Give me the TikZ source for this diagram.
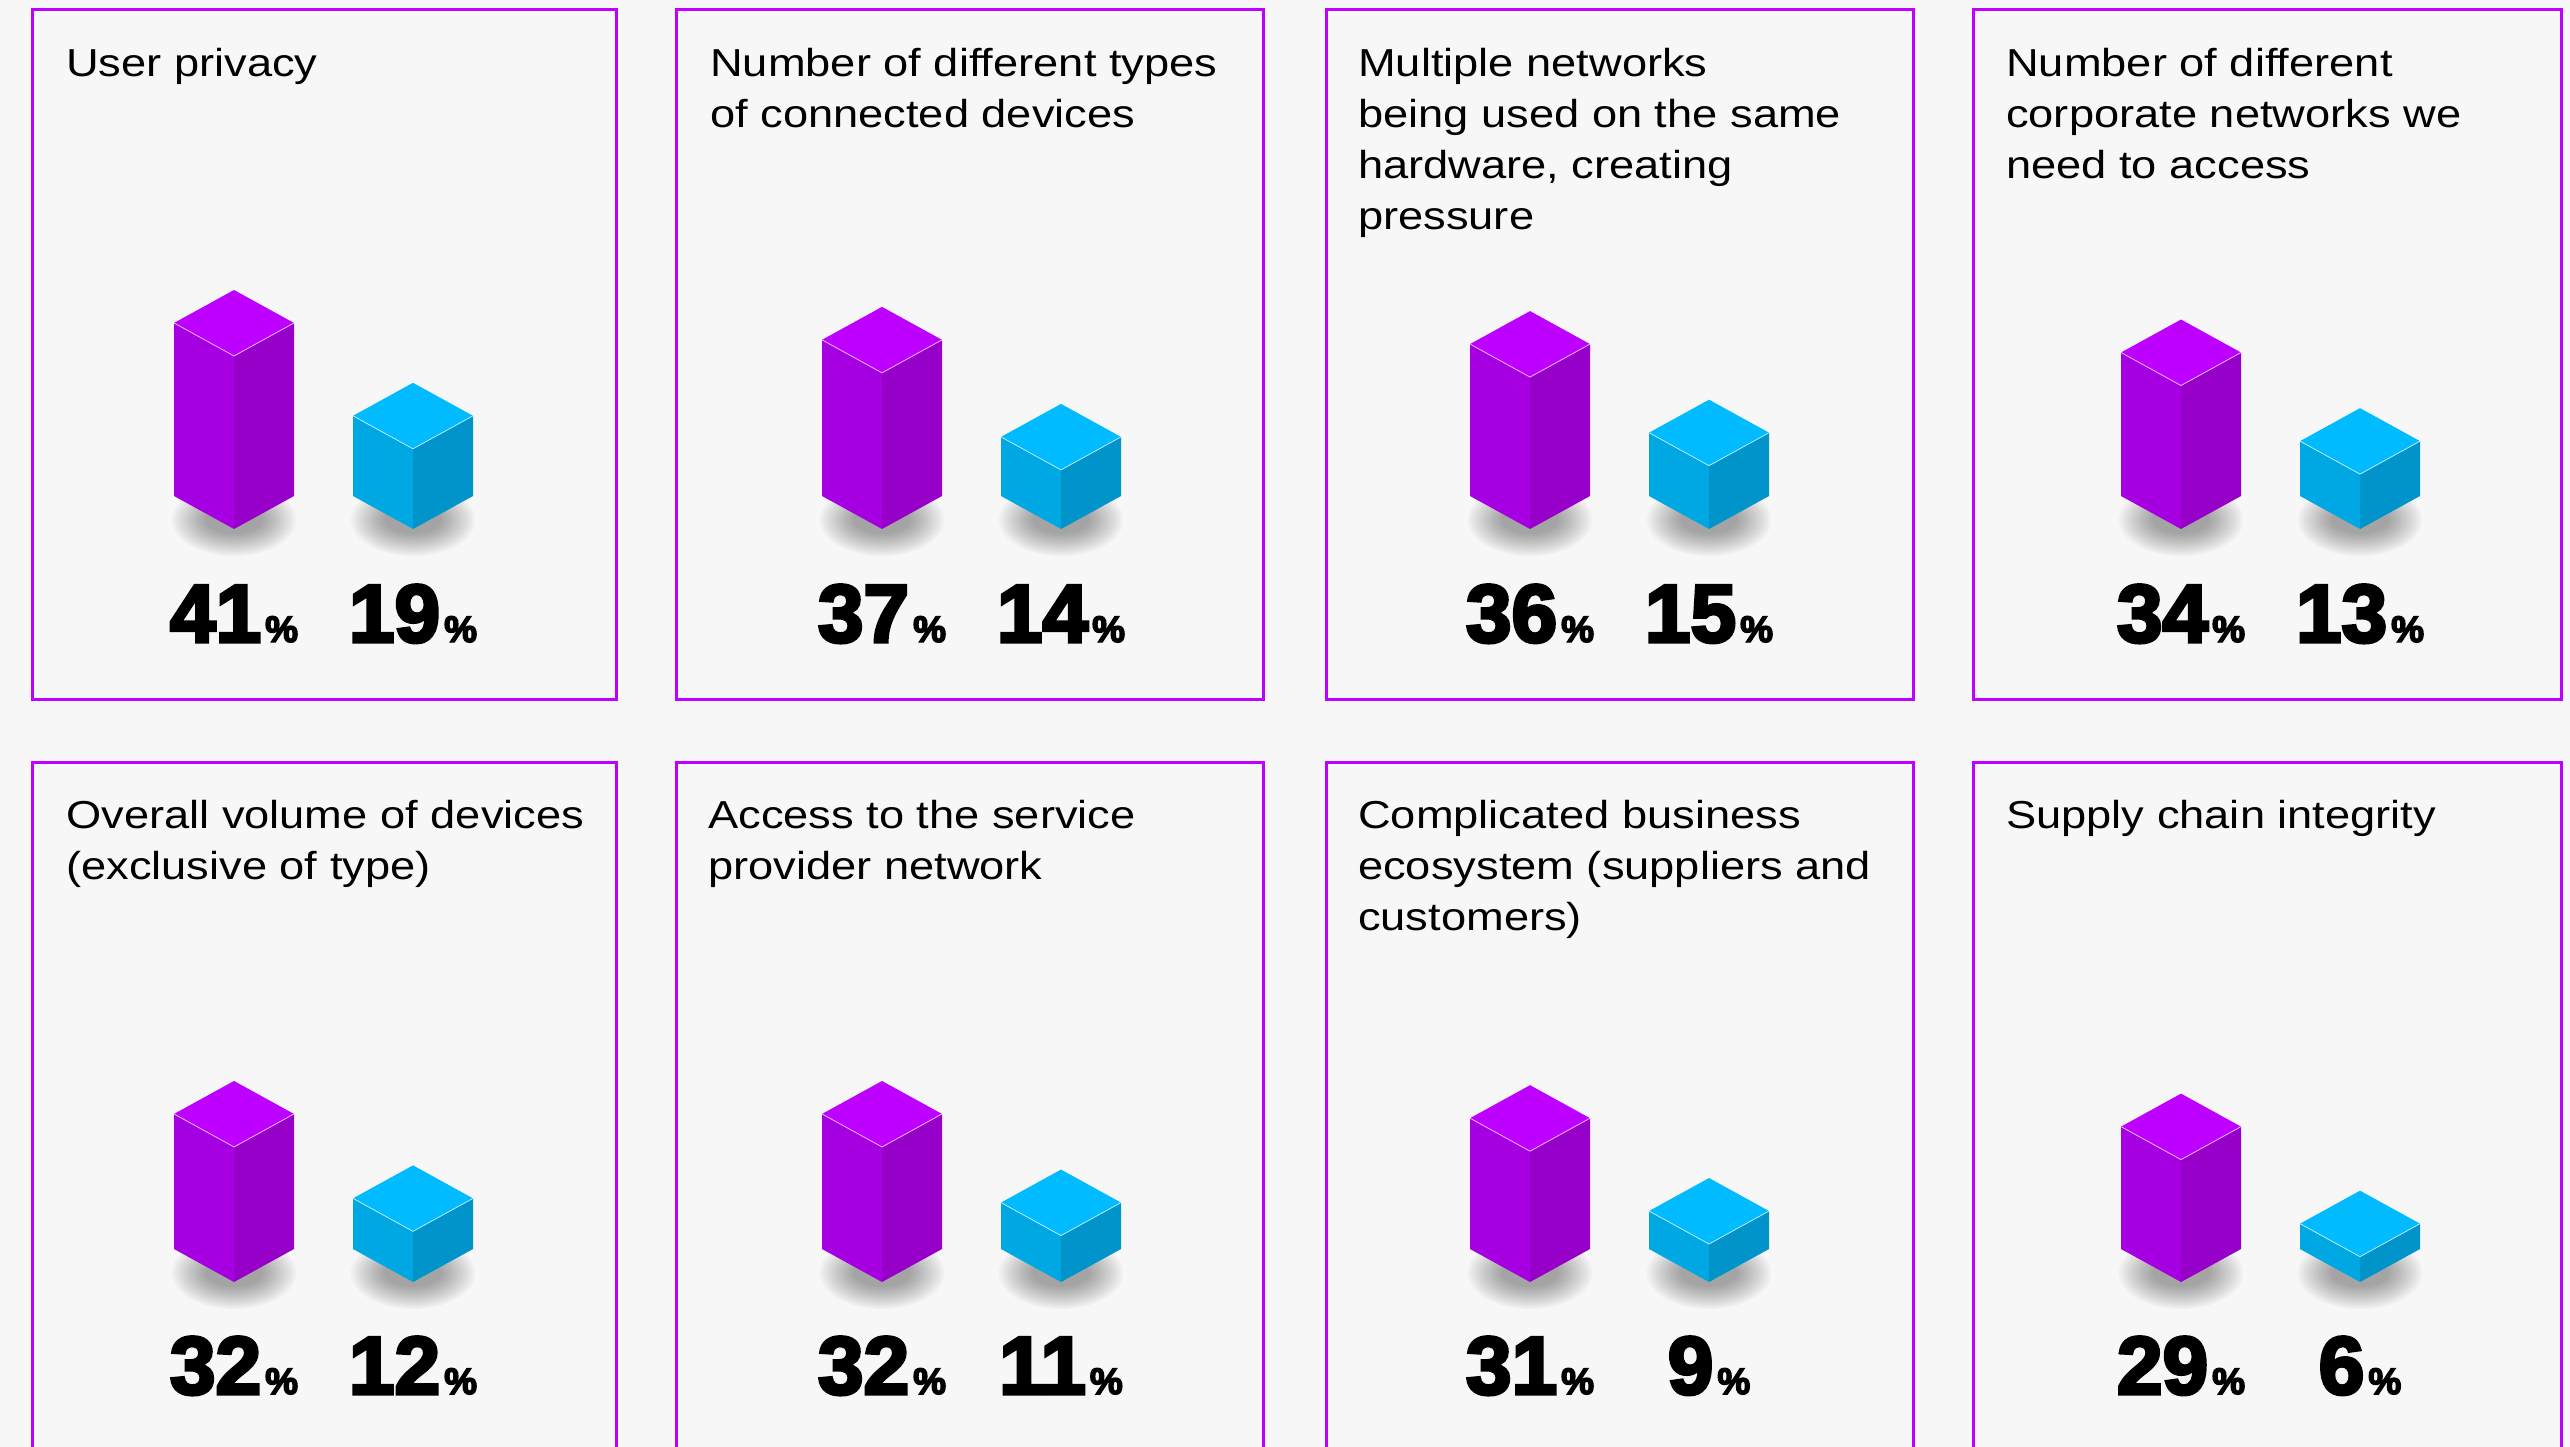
\documentclass[tikz,border=0pt]{standalone}
\usepackage{fontspec}
\setmainfont{Liberation Sans}
\newfontfamily\titlefont{Liberation Sans}[FakeStretch=1.16]
\newfontfamily\numfont{Liberation Sans}[FakeBold=4]
\definecolor{bg}{HTML}{F7F7F7}
\definecolor{frame}{HTML}{C000FF}
\definecolor{ptop}{HTML}{BD00FF}
\definecolor{pleft}{HTML}{A600E2}
\definecolor{pright}{HTML}{9600C9}
\definecolor{btop}{HTML}{00BBFF}
\definecolor{bleft}{HTML}{00A8E3}
\definecolor{bright}{HTML}{0094CA}
\tikzset{
  panel/.style={draw=frame, line width=3pt},
  title/.style={anchor=base west, inner sep=0pt,
    font=\titlefont\fontsize{39}{51}\selectfont},
  pct/.style={anchor=base, inner sep=0pt},
  shadowlayer/.style={fill=black, opacity=0.03},
  topedge/.style={draw=white, line width=0.8pt, opacity=0.7}
}
\newcommand\ttl[1]{\vtop{\halign{##\hfil\cr #1\crcr}}}
\newcommand\bignum[1]{{\numfont\bfseries\fontsize{82}{82}\selectfont #1}\hspace{4pt}{\numfont\bfseries\fontsize{37}{37}\selectfont\%}}
% #1 cx, #2 B (y of lower side corners), #3 value, #4 top, #5 left, #6 right
\newcommand\isobar[6]{%
  \pgfmathsetmacro\hh{4.22*#3}%
  \foreach \i in {0,...,11}{%
    \fill[shadowlayer] (#1,#2+24) ellipse[x radius=62-3*\i, y radius=36-2*\i];
  }%
  \fill[#5] (#1-60,#2) -- (#1,#2+33) -- (#1,#2-\hh+33) -- (#1-60,#2-\hh) -- cycle;
  \fill[#6] (#1,#2+33) -- (#1+60,#2) -- (#1+60,#2-\hh) -- (#1,#2-\hh+33) -- cycle;
  \fill[#4] (#1-60,#2-\hh) -- (#1,#2-\hh+33) -- (#1+60,#2-\hh) -- (#1,#2-\hh-33) -- cycle;
  \draw[topedge] (#1-60,#2-\hh) -- (#1,#2-\hh+33) -- (#1+60,#2-\hh);
}
\begin{document}
\begin{tikzpicture}[x=1pt,y=-1pt]
\useasboundingbox (0,0) rectangle (2570,1447);
\clip (0,0) rectangle (2570,1447);
\fill[bg] (0,0) rectangle (2570,1447);

% panels
\draw[panel] (32,10) rectangle (616,699);
\draw[panel] (676,10) rectangle (1263,699);
\draw[panel] (1326,10) rectangle (1913,699);
\draw[panel] (1973,10) rectangle (2561,699);
\draw[panel] (32,762) rectangle (616,1480);
\draw[panel] (676,762) rectangle (1263,1480);
\draw[panel] (1326,762) rectangle (1913,1480);
\draw[panel] (1973,762) rectangle (2561,1480);

% titles
\node[title] (t1) at (66,77) {\ttl{User privacy}};
\node[title] (t2) at (710,77) {\ttl{Number of different types\cr of connected devices}};
\node[title] (t3) at (1358,77) {\ttl{Multiple networks\cr being used on the same\cr hardware, creating\cr pressure}};
\node[title] (t4) at (2006,77) {\ttl{Number of different\cr corporate networks we\cr need to access}};
\node[title] (t5) at (66,828) {\ttl{Overall volume of devices\cr (exclusive of type)}};
\node[title] (t6) at (708,828) {\ttl{Access to the service\cr provider network}};
\node[title] (t7) at (1358,828) {\ttl{Complicated business\cr ecosystem (suppliers and\cr customers)}};
\node[title] (t8) at (2006,828) {\ttl{Supply chain integrity}};

% bars row 1
\isobar{234}{496}{41}{ptop}{pleft}{pright}
\isobar{413}{496}{19}{btop}{bleft}{bright}
\isobar{882}{496}{37}{ptop}{pleft}{pright}
\isobar{1061}{496}{14}{btop}{bleft}{bright}
\isobar{1530}{496}{36}{ptop}{pleft}{pright}
\isobar{1709}{496}{15}{btop}{bleft}{bright}
\isobar{2181}{496}{34}{ptop}{pleft}{pright}
\isobar{2360}{496}{13}{btop}{bleft}{bright}
% bars row 2
\isobar{234}{1249}{32}{ptop}{pleft}{pright}
\isobar{413}{1249}{12}{btop}{bleft}{bright}
\isobar{882}{1249}{32}{ptop}{pleft}{pright}
\isobar{1061}{1249}{11}{btop}{bleft}{bright}
\isobar{1530}{1249}{31}{ptop}{pleft}{pright}
\isobar{1709}{1249}{9}{btop}{bleft}{bright}
\isobar{2181}{1249}{29}{ptop}{pleft}{pright}
\isobar{2360}{1249}{6}{btop}{bleft}{bright}

% percentages
\node[pct] (p1a) at (234,642) {\bignum{41}};
\node[pct] (p1b) at (413,642) {\bignum{19}};
\node[pct] (p2a) at (882,642) {\bignum{37}};
\node[pct] (p2b) at (1061,642) {\bignum{14}};
\node[pct] (p3a) at (1530,642) {\bignum{36}};
\node[pct] (p3b) at (1709,642) {\bignum{15}};
\node[pct] (p4a) at (2181,642) {\bignum{34}};
\node[pct] (p4b) at (2360,642) {\bignum{13}};
\node[pct] (p5a) at (234,1394) {\bignum{32}};
\node[pct] (p5b) at (413,1394) {\bignum{12}};
\node[pct] (p6a) at (882,1394) {\bignum{32}};
\node[pct] (p6b) at (1061,1394) {\bignum{11}};
\node[pct] (p7a) at (1530,1394) {\bignum{31}};
\node[pct] (p7b) at (1709,1394) {\bignum{9}};
\node[pct] (p8a) at (2181,1394) {\bignum{29}};
\node[pct] (p8b) at (2360,1394) {\bignum{6}};
\end{tikzpicture}
\end{document}
